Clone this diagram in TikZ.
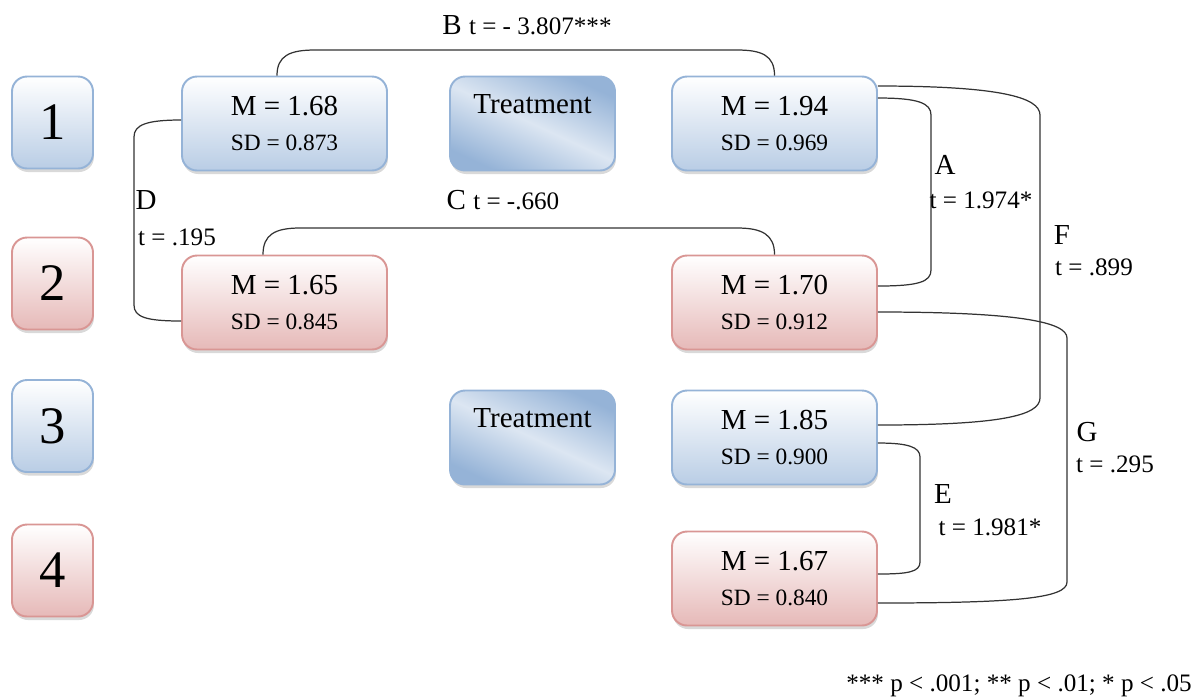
\documentclass[tikz,border=0pt]{standalone}
\usepackage{fontspec}
\setmainfont{Liberation Serif}
\usetikzlibrary{positioning,shadows}

\definecolor{bluebot}{HTML}{B9CDE5}
\definecolor{blueline}{HTML}{95B3D7}
\definecolor{redbot}{HTML}{E6B9B8}
\definecolor{redline}{HTML}{D99694}
\definecolor{treatdark}{HTML}{95B3D7}
\definecolor{treatlight}{HTML}{DCE6F2}

\newcommand{\bigsize}{\fontsize{16.5}{19.6}\selectfont}
\newcommand{\msize}{\fontsize{16.5}{19.6}\selectfont}
\newcommand{\sdsize}{\fontsize{13.3}{19.6}\selectfont}
\newcommand{\tsize}{\fontsize{14.3}{19.6}\selectfont}
\newcommand{\meansd}[2]{{\msize M = #1}\\{\sdsize SD = #2}}

\tikzset{
  box/.style={rounded corners=0.3cm, line width=1.1pt,
    drop shadow={shadow xshift=0.02cm, shadow yshift=-0.07cm, opacity=0.3}},
  bluebox/.style={box, draw=blueline, top color=white, bottom color=bluebot},
  redbox/.style={box, draw=redline, top color=white, bottom color=redbot},
  numbox/.style={minimum width=1.62cm, minimum height=1.84cm, font=\fontsize{30}{32}\selectfont},
  meanbox/.style={minimum width=4.1cm, minimum height=1.88cm, align=center, font=\sdsize},
  treatbox/.style={box, draw=blueline, minimum width=3.3cm, minimum height=1.88cm,
    top color=treatdark, bottom color=treatdark, middle color=treatlight, shading angle=-25},
  link/.style={draw=black!80, line width=0.7pt},
  lab/.style={font=\bigsize, inner sep=0pt},
  tval/.style={font=\tsize, inner sep=0pt}
}

\begin{document}
\begin{tikzpicture}[x=0.02cm, y=-0.02cm]
	\useasboundingbox (0,0) rectangle (1202,698);
	
	% row numbers
	\node[bluebox, numbox] (n1) at (52.5,122.5) {1};
	\node[redbox, numbox] (n2) at (52.5,283.5) {2};
	\node[bluebox, numbox] (n3) at (52.5,426) {3};
	\node[redbox, numbox] (n4) at (52.5,570.5) {4};
	
	% means
	\node[bluebox, meanbox] (l1) at (284.5,123.5) {\meansd{1.68}{0.873}};
	\node[redbox, meanbox] (l2) at (284.5,302.5) {\meansd{1.65}{0.845}};
	\node[bluebox, meanbox] (r1) at (774.5,123.5) {\meansd{1.94}{0.969}};
	\node[redbox, meanbox] (r2) at (774.5,302.5) {\meansd{1.70}{0.912}};
	\node[bluebox, meanbox] (r3) at (774.5,437.5) {\meansd{1.85}{0.900}};
	\node[redbox, meanbox] (r4) at (774.5,578.5) {\meansd{1.67}{0.840}};
	
	\node[treatbox, label={[lab, anchor=north, yshift=-0.38cm]north:Treatment}] (t1) at (532.5,123.5) {};
	\node[treatbox, label={[lab, anchor=north, yshift=-0.38cm]north:Treatment}] (t2) at (532.5,437.5) {};
	
	% comparisons
	\draw[link] ([xshift=-0.15cm]l1.north) .. controls +(0,-20) and +(-25,0) .. (315,50)
		-- (737,50) .. controls +(25,0) and +(0,-20) .. (r1.north);
	\draw[link] ([xshift=-0.43cm]l2.north) .. controls +(0,-20) and +(-25,0) .. (300,228)
		-- (737,228) .. controls +(25,0) and +(0,-20) .. (r2.north);
	\draw[link] ([yshift=0.07cm]l1.west) .. controls +(-35,0) and +(0,-12) .. (134,137)
		-- (134,305) .. controls +(0,12) and +(-35,0) .. ([yshift=-0.37cm]l2.west);
	\draw[link] ([yshift=0.51cm]r1.east) .. controls +(40,0) and +(0,-12) .. (931,115)
		-- (931,270) .. controls +(0,12) and +(40,0) .. ([yshift=0.33cm]r2.east);
	\draw[link] ([yshift=0.75cm]r1.east) .. controls +(120,0) and +(0,-18) .. (1040,115)
		-- (1040,398) .. controls +(0,18) and +(120,0) .. ([yshift=0.25cm]r3.east);
	\draw[link] ([yshift=-0.19cm]r2.east) .. controls +(140,0) and +(0,-16) .. (1067,338)
		-- (1067,582) .. controls +(0,16) and +(140,0) .. ([yshift=-0.49cm]r4.east);
	\draw[link] ([yshift=-0.11cm]r3.east) .. controls +(30,0) and +(0,-10) .. (920,457)
		-- (920,562) .. controls +(0,10) and +(30,0) .. ([yshift=0.09cm]r4.east);
	
	% labels
	\node[lab] (labB) at (527,25) {B {\tsize t = - 3.807***}};
	\node[lab] (labC) at (503,200) {C {\tsize t = -.660}};
	\node[lab] (labD) at (146,200) {D};
	\node[tval] (tD) at (177,237) {t = .195};
	\node[lab] (labA) at (945,165) {A};
	\node[tval] (tA) at (981,200) {t = 1.974*};
	\node[lab] (labF) at (1062,235) {F};
	\node[tval] (tF) at (1094,267) {t = .899};
	\node[lab] (labG) at (1087,432) {G};
	\node[tval] (tG) at (1115,464) {t = .295};
	\node[lab] (labE) at (943,494) {E};
	\node[tval] (tE) at (990,527) {t = 1.981*};
	
	\node[tval] (note) at (1019,686) {*** p < .001; ** p < .01; * p < .05};
\end{tikzpicture}
\end{document}
